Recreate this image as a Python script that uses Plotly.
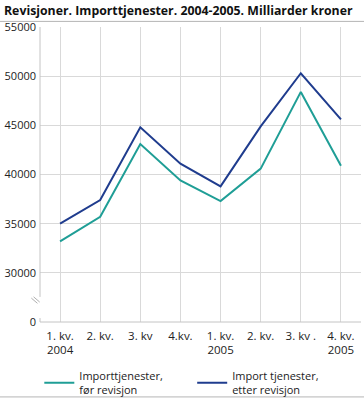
import plotly.graph_objects as go

categories = ["1. kv.<br>2004", "2. kv.", "3. kv", "4.kv.", "1. kv.<br>2005", "2. kv.", "3. kv .", "4. kv.<br>2005"]
foer_revisjon = [33200, 35700, 43100, 39400, 37300, 40600, 48400, 40900]
etter_revisjon = [35000, 37400, 44800, 41100, 38800, 44900, 50300, 45600]
y_tickvals = [25000, 30000, 35000, 40000, 45000, 50000, 55000]
y_ticktext = ["0", "30000", "35000", "40000", "45000", "50000", "55000"]

x_idx = list(range(len(categories)))

FONT = "Open Sans"
fig = go.Figure()
fig.add_trace(go.Scatter(x=x_idx, y=foer_revisjon, mode="lines",
                         name="Importtjenester,<br>før revisjon", legend="legend",
                         line=dict(color="#1f9e96", width=2)))
fig.add_trace(go.Scatter(x=x_idx, y=etter_revisjon, mode="lines",
                         name="Import tjenester,<br>etter revisjon", legend="legend2",
                         line=dict(color="#1f3c8e", width=2)))

leg_common = dict(orientation="h", xref="container", xanchor="left",
                  y=0.04, yref="container", yanchor="middle",
                  font=dict(family=FONT, size=11, color="#222"),
                  itemwidth=30, bgcolor="rgba(0,0,0,0)")

fig.update_layout(
    width=364, height=399,
    margin=dict(l=40, r=3, t=27, b=77, autoexpand=False),
    paper_bgcolor="white", plot_bgcolor="white",
    font=dict(family=FONT, size=11, color="#222"),
    title=dict(text="<b>Revisjoner. Importtjenester. 2004-2005. Milliarder kroner</b>",
               x=0.011, xref="container", xanchor="left", y=0.985, yanchor="top",
               font=dict(family=FONT, size=12.3, color="#111"),
               pad=dict(l=0, t=0)),
    showlegend=True,
    legend=dict(x=0.108, **leg_common),
    legend2=dict(x=0.528, **leg_common),
    xaxis=dict(tickvals=x_idx, ticktext=categories, showgrid=True, gridcolor="#d9d9d9", gridwidth=1,
               showline=False, ticks="", tickfont=dict(size=11.5), automargin=False,
               ticklabelstandoff=5,
               range=[-0.5, 7.5], zeroline=False),
    yaxis=dict(range=[25000, 55000], tickvals=y_tickvals, ticktext=y_ticktext,
               showgrid=True, gridcolor="#d9d9d9", gridwidth=1, automargin=False,
               showline=False, zeroline=False, ticks="", ticklen=0,
               ticklabelstandoff=3,
               tickfont=dict(size=11)),
)

AX = "#c4c4c4"
# bottom axis line
fig.add_shape(type="line", xref="paper", yref="paper", x0=0, x1=1, y0=0, y1=0,
              line=dict(color=AX, width=1))
# left axis line with break
fig.add_shape(type="line", xref="paper", yref="y", x0=0, x1=0, y0=25000, y1=25400,
              line=dict(color=AX, width=1))
fig.add_shape(type="line", xref="paper", yref="y", x0=0, x1=0, y0=27550, y1=55000,
              line=dict(color=AX, width=1))
# break marks
fig.add_shape(type="line", xref="paper", yref="y", x0=-0.027, x1=-0.008, y0=27430, y1=26900,
              line=dict(color="#b0b0b0", width=1))
fig.add_shape(type="line", xref="paper", yref="y", x0=-0.020, x1=-0.001, y0=27560, y1=27030,
              line=dict(color="#b0b0b0", width=1))
# top / bottom separator lines
fig.add_shape(type="line", xref="paper", yref="paper", x0=-0.125, x1=1.01, y0=1.019, y1=1.019,
              line=dict(color="#b5b5b5", width=1))
fig.add_shape(type="line", xref="paper", yref="paper", x0=-0.125, x1=1.01, y0=-0.254, y1=-0.254,
              line=dict(color="#b5b5b5", width=1))

fig.write_html("out.html", config={"displayModeBar": False},
               post_script="document.body.style.margin='0';document.body.style.padding='0';")
